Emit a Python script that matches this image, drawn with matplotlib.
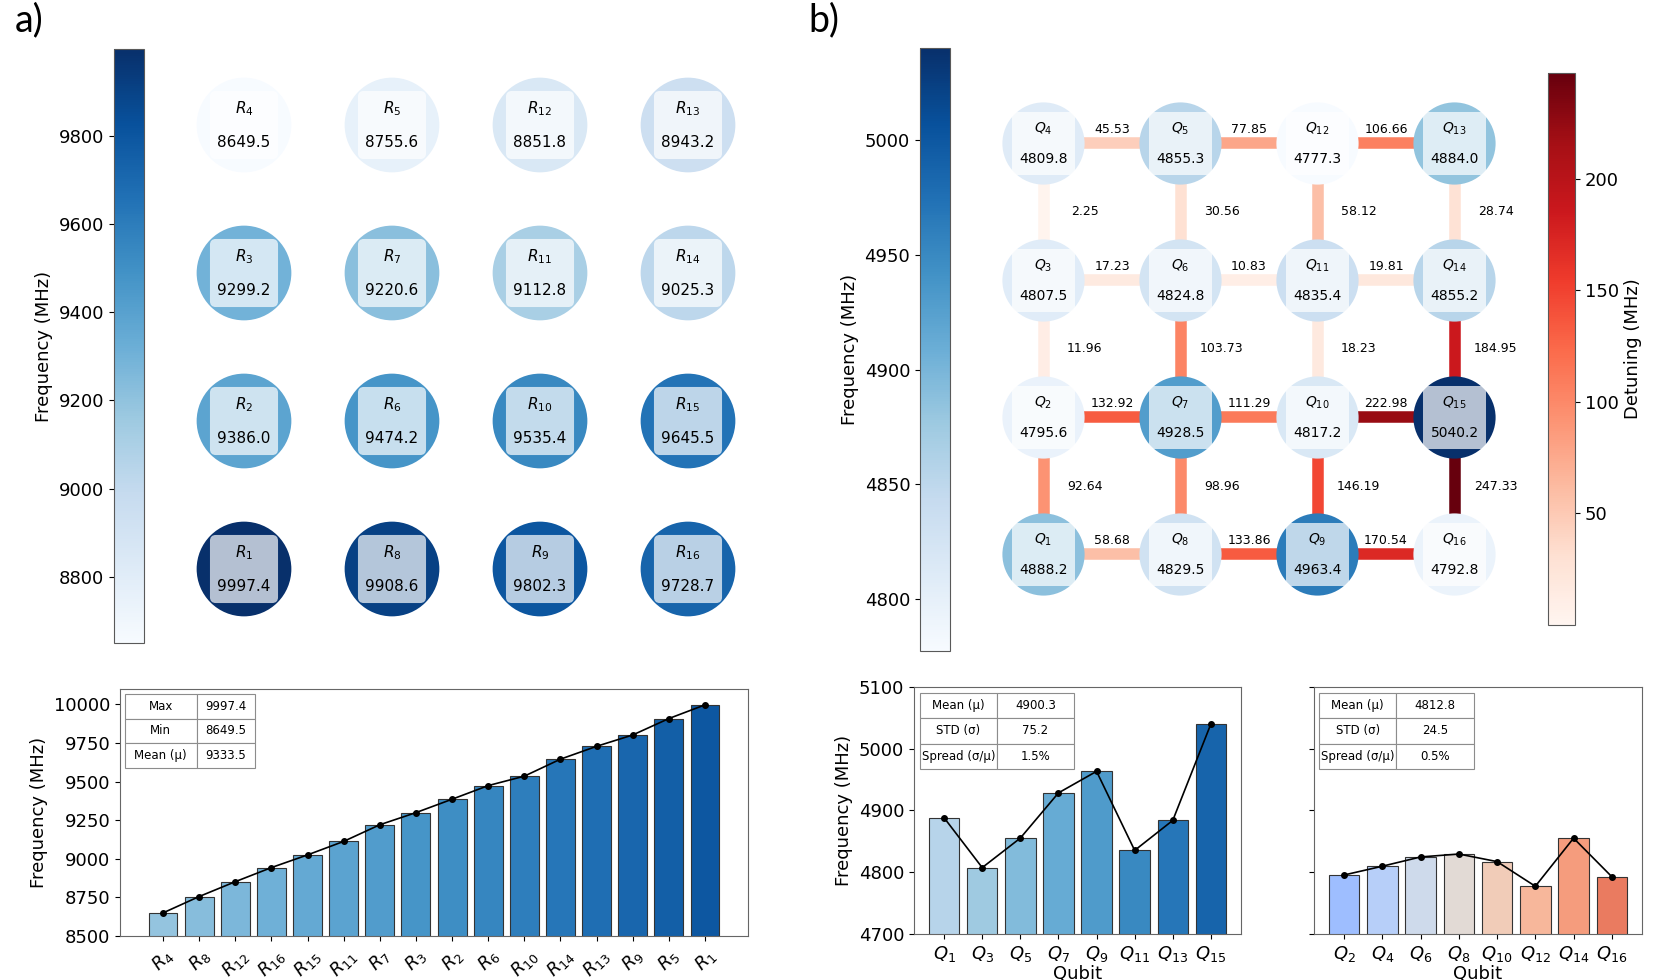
import numpy as np
import matplotlib
matplotlib.use("Agg")
import matplotlib.pyplot as plt
from matplotlib.colors import Normalize
from matplotlib.cm import ScalarMappable
from matplotlib.patches import Circle, FancyBboxPatch

# --- data ---------------------------------------------------------------
# grid layout, top row first
res_names = [[4, 5, 12, 13], [3, 7, 11, 14], [2, 6, 10, 15], [1, 8, 9, 16]]
res_freqs = [[8649.5, 8755.6, 8851.8, 8943.2],
             [9299.2, 9220.6, 9112.8, 9025.3],
             [9386.0, 9474.2, 9535.4, 9645.5],
             [9997.4, 9908.6, 9802.3, 9728.7]]

qub_names = [[4, 5, 12, 13], [3, 6, 11, 14], [2, 7, 10, 15], [1, 8, 9, 16]]
qub_freqs = [[4809.8, 4855.3, 4777.3, 4884.0],
             [4807.5, 4824.8, 4835.4, 4855.2],
             [4795.6, 4928.5, 4817.2, 5040.2],
             [4888.2, 4829.5, 4963.4, 4792.8]]

# detuning on horizontal couplers (per row) and vertical couplers (row r -> r+1)
h_detuning = [[45.53, 77.85, 106.66],
              [17.23, 10.83, 19.81],
              [132.92, 111.29, 222.98],
              [58.68, 133.86, 170.54]]
v_detuning = [[2.25, 30.56, 58.12, 28.74],
              [11.96, 103.73, 18.23, 184.95],
              [92.64, 98.96, 146.19, 247.33]]

# bar chart of resonators (sorted)
res_bar_labels = [4, 8, 12, 16, 15, 11, 7, 3, 2, 6, 10, 14, 13, 9, 5, 1]
res_bar_values = np.sort(np.array(res_freqs).ravel())

odd_labels = [1, 3, 5, 7, 9, 11, 13, 15]
odd_values = [4888.2, 4807.5, 4855.3, 4928.5, 4963.4, 4835.4, 4884.0, 5040.2]
even_labels = [2, 4, 6, 8, 10, 12, 14, 16]
even_values = [4795.6, 4809.8, 4824.8, 4829.5, 4817.2, 4777.3, 4855.2, 4792.8]

W, H = 1661, 980
fig = plt.figure(figsize=(W / 100, H / 100), dpi=100)


def px_axes(x0, y0, x1, y1):
    """axes from pixel box (origin top-left)"""
    return fig.add_axes([x0 / W, 1 - y1 / H, (x1 - x0) / W, (y1 - y0) / H])


def draw_node(ax, x, y, color, name, value, r, fs):
    ax.add_patch(Circle((x, y), r, color=color, zorder=3, lw=0))
    bw = 0.46
    ax.add_patch(FancyBboxPatch((x - bw / 2, y - bw / 2), bw, bw,
                                boxstyle="round,pad=0,rounding_size=0.04",
                                fc="white", ec="none", alpha=0.7, zorder=4))
    ax.text(x, y + 0.11, name, ha="center", va="center", fontsize=fs, zorder=5)
    ax.text(x, y - 0.115, f"{value:.1f}", ha="center", va="center",
            fontsize=fs, zorder=5)


def left_colorbar(cax, norm, cmap, label, ticks):
    cb = fig.colorbar(ScalarMappable(norm=norm, cmap=cmap), cax=cax)
    cb.set_ticks(ticks)
    cax.yaxis.set_ticks_position("left")
    cax.yaxis.set_label_position("left")
    cax.tick_params(labelsize=13)
    cb.set_label(label, fontsize=13)
    cb.outline.set_edgecolor("0.35")
    return cb


# --- a) resonator grid --------------------------------------------------
fig.text(15 / W, 1 - 2 / H, "a)", fontsize=27, family="Lato", va="top")
fig.text(808 / W, 1 - 2 / H, "b)", fontsize=27, family="Lato", va="top")

r_norm = Normalize(min(map(min, res_freqs)), max(map(max, res_freqs)))
cax_r = px_axes(114, 49, 144, 643)
left_colorbar(cax_r, r_norm, plt.cm.Blues, "Frequency (MHz)",
              [8800, 9000, 9200, 9400, 9600, 9800])

ax_r = px_axes(170, 51, 762, 643)
for i in range(4):
    for j in range(4):
        draw_node(ax_r, j, 3 - i, plt.cm.Blues(r_norm(res_freqs[i][j])),
                  f"$R_{{{res_names[i][j]}}}$", res_freqs[i][j], 0.32, 11)
ax_r.set_xlim(-0.5, 3.5)
ax_r.set_ylim(-0.5, 3.5)
ax_r.set_aspect("equal")
ax_r.axis("off")

# --- b) qubit grid ------------------------------------------------------
q_norm = Normalize(min(map(min, qub_freqs)), max(map(max, qub_freqs)))
cax_q = px_axes(920, 48, 950, 651)
left_colorbar(cax_q, q_norm, plt.cm.Blues, "Frequency (MHz)",
              [4800, 4850, 4900, 4950, 5000])

d_norm = Normalize(0, max(max(map(max, h_detuning)), max(map(max, v_detuning))))
ax_q = px_axes(975, 75, 1523, 623)
for i in range(4):
    for j in range(3):
        d = h_detuning[i][j]
        ax_q.plot([j, j + 1], [3 - i, 3 - i], color=plt.cm.Reds(d_norm(d)),
                  lw=8.3, solid_capstyle="butt", zorder=1)
        ax_q.text(j + 0.5, 3 - i + 0.1, f"{d:.2f}", ha="center", va="center",
                  fontsize=9, zorder=2)
for i in range(3):
    for j in range(4):
        d = v_detuning[i][j]
        ax_q.plot([j, j], [3 - i, 2 - i], color=plt.cm.Reds(d_norm(d)),
                  lw=8.3, solid_capstyle="butt", zorder=1)
        ax_q.text(j + 0.3, 2.5 - i, f"{d:.2f}", ha="center", va="center",
                  fontsize=9, zorder=2)
for i in range(4):
    for j in range(4):
        draw_node(ax_q, j, 3 - i, plt.cm.Blues(q_norm(qub_freqs[i][j])),
                  f"$Q_{{{qub_names[i][j]}}}$", qub_freqs[i][j], 0.30, 10)
ax_q.set_xlim(-0.5, 3.5)
ax_q.set_ylim(-0.5, 3.5)
ax_q.set_aspect("equal")
ax_q.axis("off")

cax_d = px_axes(1548, 73, 1575, 625)
cb_d = fig.colorbar(ScalarMappable(norm=d_norm, cmap=plt.cm.Reds), cax=cax_d)
cb_d.set_ticks([50, 100, 150, 200])
cax_d.tick_params(labelsize=13)
cb_d.set_label("Detuning (MHz)", fontsize=13)
cb_d.outline.set_edgecolor("0.35")


# --- bottom bar charts --------------------------------------------------
def stats_table(ax, rows, bbox, col_widths):
    tb = ax.table(cellText=rows, cellLoc="center", bbox=bbox,
                  colWidths=col_widths)
    tb.auto_set_font_size(False)
    tb.set_fontsize(8.5)
    for cell in tb.get_celld().values():
        cell.set_edgecolor("0.55")
        cell.set_linewidth(0.8)
    return tb


def style_axes(ax):
    for sp in ax.spines.values():
        sp.set_color("0.4")
    ax.tick_params(labelsize=13)


ax_b1 = px_axes(120, 689, 748, 936)
x = np.arange(len(res_bar_values))
ax_b1.bar(x, res_bar_values, width=0.8,
          color=plt.cm.Blues(np.linspace(0.4, 0.85, len(x))),
          edgecolor="0.2", lw=0.8)
ax_b1.plot(x, res_bar_values, "k-o", ms=4, lw=1.2)
ax_b1.set_ylim(8500, 10100)
ax_b1.set_yticks([8500, 8750, 9000, 9250, 9500, 9750, 10000])
ax_b1.set_xticks(x)
ax_b1.set_xticklabels([f"$R_{{{n}}}$" for n in res_bar_labels],
                      rotation=45, ha="center")
ax_b1.set_ylabel("Frequency (MHz)", fontsize=13)
style_axes(ax_b1)
stats_table(ax_b1, [["Max", f"{res_bar_values.max():.1f}"],
                    ["Min", f"{res_bar_values.min():.1f}"],
                    ["Mean (\u03bc)", f"{res_bar_values.mean():.1f}"]],
            [0.008, 0.68, 0.207, 0.30], [0.55, 0.45])

ax_b2 = px_axes(914, 687, 1241, 934)
x = np.arange(len(odd_values))
ax_b2.bar(x, odd_values, width=0.8,
          color=plt.cm.Blues(np.linspace(0.3, 0.8, len(x))),
          edgecolor="0.2", lw=0.8)
ax_b2.plot(x, odd_values, "k-o", ms=4, lw=1.2)
ax_b2.set_ylim(4700, 5100)
ax_b2.set_yticks([4700, 4800, 4900, 5000, 5100])
ax_b2.set_xticks(x)
ax_b2.set_xticklabels([f"$Q_{{{n}}}$" for n in odd_labels])
ax_b2.set_ylabel("Frequency (MHz)", fontsize=13)
ax_b2.set_xlabel("Qubit", fontsize=13, labelpad=1)
style_axes(ax_b2)
mu, sd = np.mean(odd_values), np.std(odd_values, ddof=1)
stats_table(ax_b2, [["Mean (\u03bc)", f"{mu:.1f}"],
                    ["STD (\u03c3)", f"{sd:.1f}"],
                    ["Spread (\u03c3/\u03bc)", f"{100 * sd / mu:.1f}%"]],
            [0.018, 0.668, 0.471, 0.308], [0.5, 0.5])

ax_b3 = px_axes(1314, 687, 1642, 934)
x = np.arange(len(even_values))
ax_b3.bar(x, even_values, width=0.8,
          color=plt.cm.coolwarm(np.linspace(0.3, 0.82, len(x))),
          edgecolor="0.2", lw=0.8)
ax_b3.plot(x, even_values, "k-o", ms=4, lw=1.2)
ax_b3.set_ylim(4700, 5100)
ax_b3.set_yticks([4700, 4800, 4900, 5000, 5100])
ax_b3.set_yticklabels([])
ax_b3.set_xticks(x)
ax_b3.set_xticklabels([f"$Q_{{{n}}}$" for n in even_labels])
ax_b3.set_xlabel("Qubit", fontsize=13, labelpad=1)
style_axes(ax_b3)
mu, sd = np.mean(even_values), np.std(even_values, ddof=1)
stats_table(ax_b3, [["Mean (\u03bc)", f"{mu:.1f}"],
                    ["STD (\u03c3)", f"{sd:.1f}"],
                    ["Spread (\u03c3/\u03bc)", f"{100 * sd / mu:.1f}%"]],
            [0.015, 0.668, 0.473, 0.308], [0.5, 0.5])

fig.savefig("out.png", dpi=100)
